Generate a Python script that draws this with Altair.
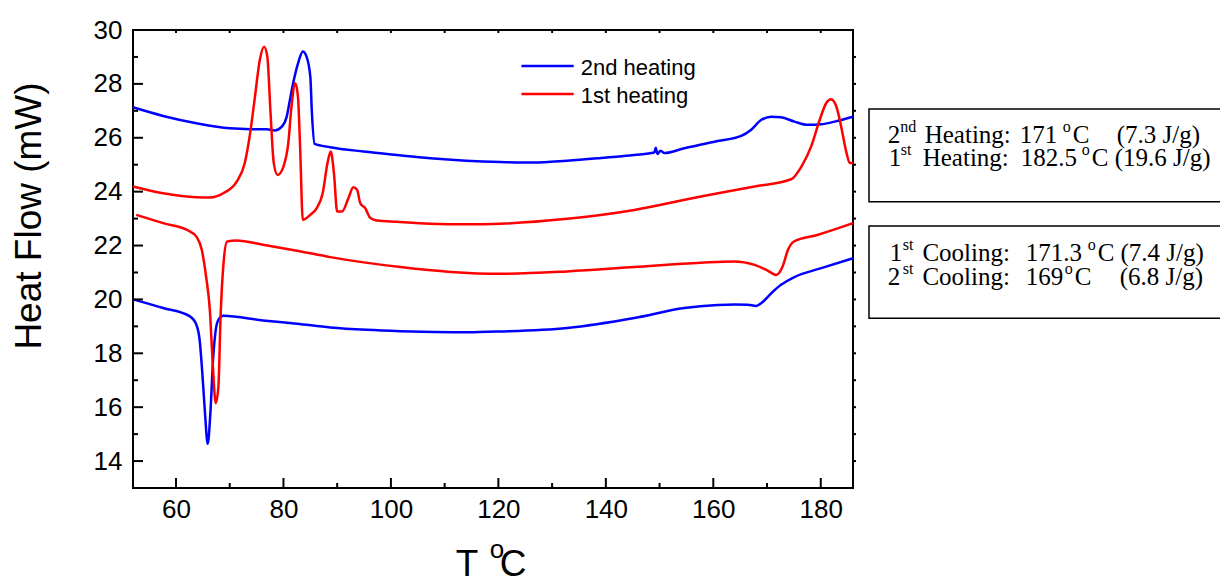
import altair as alt
import pandas as pd

# ---------------- data ----------------
heat2_T = [52, 57.6, 63.8, 70.0, 73.8, 76.9, 78.4, 79.7, 80.6, 81.2, 81.8, 82.8, 83.6, 84.3, 85.0, 85.3,
           85.8, 88.7, 94.9, 101.1, 107.3, 114.0, 120.4, 126.6, 132.8, 139.1, 145.3, 149.0, 149.3, 149.6, 150.2,
           150.9, 154.6, 160.8, 165.2, 167.0, 168.9, 170.8, 172.6, 175.1, 177.6, 180.1, 182.6, 186.0]
heat2_Y = [27.13, 26.81, 26.54, 26.35, 26.32, 26.32, 26.27, 26.41, 26.78, 27.4, 28.02, 28.82, 29.2, 29.01,
           28.27, 26.91, 25.77, 25.65, 25.49, 25.36, 25.24, 25.15, 25.1, 25.08, 25.15, 25.25, 25.36, 25.45, 25.63,
           25.4, 25.52, 25.43, 25.61, 25.88, 26.07, 26.29, 26.66, 26.78, 26.76, 26.6, 26.48, 26.5, 26.6, 26.78]

heat1_T = [52, 57.6, 63.8, 66.3, 68.8, 71.3, 72.8, 73.8, 74.7, 75.6, 76.4, 77.0, 77.6, 78.2, 78.9, 80.0,
           80.9, 81.5, 82.2, 82.7, 83.1, 83.6, 85.0, 86.2, 87.3, 88.2, 88.8, 89.4, 90.0, 90.9, 92.1, 93.0,
           93.7, 94.3, 95.2, 96.2, 97.4, 101.1, 107.3, 114.0, 120.4, 132.8, 145.3, 157.7, 167.7, 174.5, 176.4,
           178.2, 179.8, 181.0, 181.9, 182.9, 183.8, 184.8, 185.4, 186.0]
heat1_Y = [24.19, 23.94, 23.79, 23.78, 23.94, 24.37, 25.06, 26.17, 27.53, 28.89, 29.38, 29.01, 26.91, 25.06,
           24.62, 24.93, 25.8, 27.16, 28.02, 27.53, 25.67, 22.95, 23.14, 23.39, 23.94, 25.06, 25.49, 24.68,
           23.26, 23.26, 23.76, 24.16, 24.07, 23.57, 23.39, 23.02, 22.93, 22.88, 22.81, 22.79, 22.81, 22.99, 23.32,
           23.82, 24.19, 24.46, 24.93, 25.67, 26.66, 27.28, 27.43, 27.16, 26.41, 25.43, 25.06, 25.06]

cool1_T = [52.6, 57.6, 62.6, 63.8, 64.8, 65.6, 66.3, 66.8, 67.4, 67.9, 68.3, 68.9, 69.5, 71.3, 76.2, 82.5,
           88.7, 101.8, 111.1, 120.4, 132.8, 145.3, 157.7, 163.9, 167.7, 170.1, 171.7, 172.9, 173.9, 175.0,
           179.5, 186.0]
cool1_Y = [23.14, 22.83, 22.52, 22.33, 21.84, 20.85, 19.61, 17.76, 16.15, 16.77, 19.37, 21.47, 22.15, 22.19,
           22.03, 21.81, 21.57, 21.2, 21.02, 20.95, 21.04, 21.2, 21.36, 21.41, 21.28, 21.07, 20.91, 21.22,
           21.84, 22.15, 22.4, 22.83]

cool2_T = [52, 57.6, 62.6, 63.8, 64.4, 64.9, 65.4, 65.9, 66.4, 66.9, 67.4, 67.9, 68.8, 76.2, 82.5, 88.7,
           95.5, 101.8, 108.0, 114.2, 120.4, 132.8, 145.3, 154.6, 160.8, 164.0, 166.4, 168.0, 168.9, 170.8, 172.6,
           175.1, 180.1, 186.0]
cool2_Y = [20.0, 19.68, 19.37, 19.06, 18.5, 17.27, 15.78, 14.64, 15.78, 17.76, 18.87, 19.24, 19.39, 19.22,
           19.1, 18.96, 18.87, 18.82, 18.79, 18.78, 18.81, 18.94, 19.31, 19.68, 19.79, 19.81, 19.8, 19.76, 19.86,
           20.23, 20.54, 20.83, 21.16, 21.53]

x_major = [60, 80, 100, 120, 140, 160, 180]
x_minor = [70, 90, 110, 130, 150, 170]
x_top = [60, 70, 80, 90, 100, 110, 120, 130, 140, 150, 160, 170, 180]
y_major = [14, 16, 18, 20, 22, 24, 26, 28, 30]
y_minor = [15, 17, 19, 21, 23, 25, 27, 29]
y_right = [14, 15, 16, 17, 18, 19, 20, 21, 22, 23, 24, 25, 26, 27, 28, 29]

legend_labels = ["2nd heating", "1st heating"]
x_title = "T"
y_title = "Heat Flow (mW)"

BLUE = "#0000FF"
RED = "#FF0000"

frames = []
for name, T, Y in [("2nd heating", heat2_T, heat2_Y), ("1st heating", heat1_T, heat1_Y),
                   ("1st cooling", cool1_T, cool1_Y), ("2nd cooling", cool2_T, cool2_Y)]:
    frames.append(pd.DataFrame({"T": T, "HF": Y, "series": name, "idx": list(range(len(T)))}))
df = pd.concat(frames, ignore_index=True)

W, H = 720, 458
OX, OY = 133.3, 30.0  # page position of plot origin (for annotation layout)

xscale = alt.Scale(domain=[52, 186], nice=False, zero=False)
yscale = alt.Scale(domain=[13, 30], nice=False, zero=False)
xaxis = alt.Axis(values=x_major, title=None, labelPadding=8)
yaxis = alt.Axis(values=y_major, title=None, labelPadding=11)


def curves(names, color):
    return alt.Chart(df[df.series.isin(names)]).mark_line(
        color=color, strokeWidth=2.5, interpolate="monotone"
    ).encode(
        x=alt.X("T:Q", scale=xscale, axis=xaxis),
        y=alt.Y("HF:Q", scale=yscale, axis=yaxis),
        detail="series:N",
        order="idx:Q",
    )


layers = [curves(["2nd cooling", "2nd heating"], BLUE), curves(["1st cooling", "1st heating"], RED)]


def xticks(vals, y1, y2):
    return alt.Chart(pd.DataFrame({"v": vals})).mark_rule(color="black", strokeWidth=2).encode(
        x=alt.X("v:Q", scale=xscale, axis=xaxis), y=alt.value(y1), y2=alt.value(y2))


def yticks(vals, x1, x2):
    return alt.Chart(pd.DataFrame({"v": vals})).mark_rule(color="black", strokeWidth=2).encode(
        y=alt.Y("v:Q", scale=yscale, axis=yaxis), x=alt.value(x1), x2=alt.value(x2))


layers += [
    xticks(x_major, H, H - 10), xticks(x_minor, H, H - 5), xticks(x_top, 0, 3),
    yticks(y_major, 0, 10), yticks(y_minor, 0, 5), yticks(y_right, W, W + 3),
]

one = pd.DataFrame({"k": [0]})


def txt(s, px, py, size, font, align="left", angle=0):
    kw = dict(text=s, fontSize=size, font=font, color="black", align=align, baseline="alphabetic")
    if angle:
        kw["angle"] = angle
    return alt.Chart(one).mark_text(**kw).encode(x=alt.value(px - OX), y=alt.value(py - OY))


# legend (manual, as drawn in the figure)
for lab, col, ly in zip(legend_labels, [BLUE, RED], [66, 94]):
    layers.append(alt.Chart(one).mark_rule(color=col, strokeWidth=2.5).encode(
        x=alt.value(521.7 - OX), x2=alt.value(574 - OX), y=alt.value(ly - OY)))
    layers.append(txt(lab, 581, ly + 9, 22, "Liberation Sans"))

# annotation boxes
for top, bot in [(109, 201.7), (226, 318.3)]:
    layers.append(alt.Chart(one).mark_rect(filled=False, stroke="black", strokeWidth=1.5).encode(
        x=alt.value(869.3 - OX), x2=alt.value(1229.5 - OX), y=alt.value(top - OY), y2=alt.value(bot - OY)))

SERIF = "Liberation Serif"
BS, SS = 25, 16
box_lines = [
    (143, [("2", 888, 0), ("nd", 900.5, 1), ("Heating:", 925, 0), ("171", 1020, 0), ("o", 1063, 1),
           ("C", 1073, 0), ("(7.3 J/g)", 1117, 0)]),
    (166, [("1", 889, 0), ("st", 901, 1), ("Heating:", 923, 0), ("182.5", 1021, 0), ("o", 1082, 1),
           ("C", 1092, 0), ("(19.6 J/g)", 1115, 0)]),
    (261, [("1", 890, 0), ("st", 903, 1), ("Cooling:", 922.7, 0), ("171.3", 1026, 0), ("o", 1088, 1),
           ("C", 1098, 0), ("(7.4 J/g)", 1120.7, 0)]),
    (285, [("2", 888, 0), ("st", 903, 1), ("Cooling:", 922.7, 0), ("169", 1026, 0), ("o", 1065, 1),
           ("C", 1075, 0), ("(6.8 J/g)", 1120, 0)]),
]
for base, pieces in box_lines:
    for s, px, sup in pieces:
        if sup:
            layers.append(txt(s, px, base - 11, SS, SERIF))
        else:
            layers.append(txt(s, px, base, BS, SERIF))

# axis titles
layers.append(txt(y_title, 41.7, 216, 37, "Liberation Sans", align="center", angle=270))
layers.append(txt(x_title, 456, 576, 37, "Liberation Sans"))
layers.append(txt("o", 490, 558, 26, "Liberation Sans"))
layers.append(txt("C", 500, 576, 37, "Liberation Sans"))

chart = alt.layer(*layers).properties(
    width=W, height=H,
    padding={"left": 125, "top": 22, "right": 367, "bottom": 92},
    autosize=alt.AutoSizeParams(type="none"),
).configure_view(
    stroke="black", strokeWidth=2
).configure_axis(
    grid=False, domain=False, ticks=False, tickSize=0,
    labelFont="Liberation Sans", labelFontSize=26, labelColor="black",
)

chart.save("out.html", embed_options={"renderer": "svg", "actions": False})
